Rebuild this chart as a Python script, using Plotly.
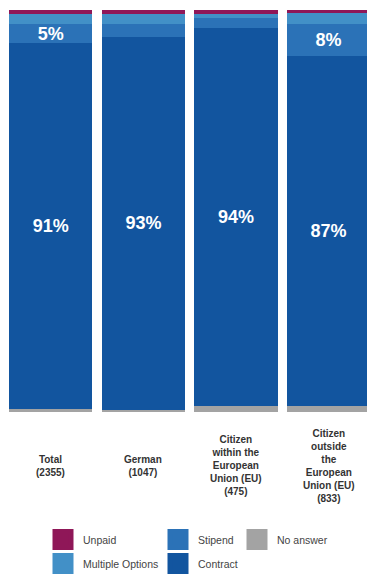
import plotly.graph_objects as go

categories = ["Total", "German", "Citizen within the European Union (EU)", "Citizen outside the European Union (EU)"]
category_labels = ["Total<br>(2355)", "German<br>(1047)",
                   "Citizen<br>within the<br>European<br>Union (EU)<br>(475)",
                   "Citizen<br>outside<br>the<br>European<br>Union (EU)<br>(833)"]

no_answer = [0.7, 0.4, 1.4, 1.5]
contract = [91, 93, 94, 87]
stipend = [4.8, 3, 2.7, 8]
multiple = [2.5, 2.5, 0.8, 2.7]
unpaid = [1.0, 1.1, 1.1, 0.8]

contract_text = ["91%", "93%", "94%", "87%"]
stipend_text = ["5%", "", "", "8%"]

colors = {
    "Unpaid": "#8f1758",
    "Multiple Options": "#4290c7",
    "Stipend": "#2b72b7",
    "Contract": "#12559f",
    "No answer": "#a3a3a3",
}

FONT = "Liberation Sans, Arial, sans-serif"

fig = go.Figure()

series = [
    ("No answer", no_answer, None),
    ("Contract", contract, contract_text),
    ("Stipend", stipend, stipend_text),
    ("Multiple Options", multiple, None),
    ("Unpaid", unpaid, None),
]
for name, vals, txt in series:
    fig.add_trace(go.Bar(
        x=categories, y=vals, name=name, showlegend=False,
        marker=dict(color=colors[name], line=dict(width=0)),
        text=txt, textposition="inside" if txt else "none",
        insidetextanchor="middle", constraintext="none",
        textfont=dict(family=FONT, size=18, color="white", weight="bold"),
        hoverinfo="skip",
    ))

legend_layout = [
    ("Unpaid", "legend"), ("Multiple Options", "legend"),
    ("Stipend", "legend2"), ("Contract", "legend2"),
    ("No answer", "legend3"),
]
for name, lg in legend_layout:
    fig.add_trace(go.Scatter(
        x=[None], y=[None], mode="markers", name=name, legend=lg,
        legendgroup=name,
        marker=dict(symbol="square", size=16, color=colors[name],
                    line=dict(color=colors[name], width=5)),
    ))

for lab, cat in zip(category_labels, categories):
    fig.add_annotation(x=cat, y=-0.1343, xref="x", yref="paper", text=lab,
                       showarrow=False, xanchor="center", yanchor="middle",
                       align="center",
                       font=dict(family=FONT, size=10, color="#333333", weight="bold"))

leg_y = 1 - 525 / 574
leg_common = dict(orientation="v", yanchor="top", xanchor="left",
                  xref="container", yref="container", y=leg_y,
                  bgcolor="rgba(0,0,0,0)", tracegroupgap=5,
                  font=dict(family=FONT, size=10.5, color="#444444"),
                  itemclick=False, itemdoubleclick=False)
fig.update_layout(
    barmode="stack",
    bargap=0.1,
    width=367, height=574,
    margin=dict(l=0, r=0, t=10, b=162, autoexpand=False),
    paper_bgcolor="white", plot_bgcolor="white",
    xaxis=dict(range=[-0.5486, 3.4147], showticklabels=False, showgrid=False,
               zeroline=False, showline=False, ticks=""),
    yaxis=dict(range=[0, 100], visible=False, fixedrange=True),
    legend=dict(x=43/367, **leg_common),
    legend2=dict(x=158/367, **leg_common),
    legend3=dict(x=237/367, **leg_common),
    font=dict(family=FONT),
)

fig.write_html("out.html")
